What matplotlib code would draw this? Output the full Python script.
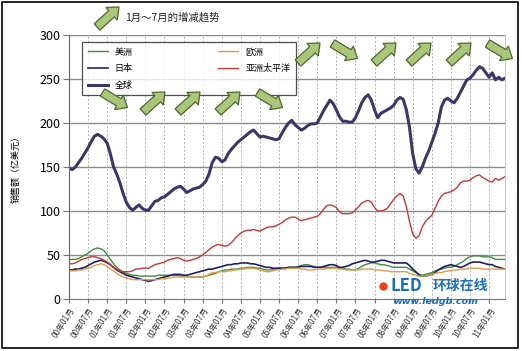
import matplotlib
matplotlib.use("Agg")
import matplotlib.pyplot as plt
from matplotlib.patches import FancyArrow, Rectangle
import numpy as np

plt.rcParams['font.family'] = ['Noto Sans CJK SC', 'DejaVu Sans']

# monthly sales, 2000-01 .. 2011-06 (100 million USD)
global_sales = [149, 147, 150, 155, 160, 166, 172, 179, 185, 187, 185, 182,
                177, 165, 150, 142, 132, 120, 110, 104, 101, 104, 107, 103,
                101, 101, 106, 111, 112, 115, 116, 119, 122, 125, 127, 128,
                125, 121, 123, 125, 126, 127, 130, 134, 142, 155, 161, 160,
                156, 158, 165, 170, 174, 178, 181, 184, 187, 190, 192, 188,
                184, 185, 184, 183, 182, 181, 182, 189, 195, 200, 203, 198,
                195, 192, 194, 197, 199, 199, 200, 207, 214, 220, 226, 222,
                215, 207, 202, 202, 201, 201, 206, 214, 223, 229, 232, 226,
                215, 206, 211, 213, 215, 217, 220, 226, 229, 227, 215, 195,
                165, 148, 143, 150, 160, 168, 178, 188, 200, 218, 226, 228,
                225, 223, 228, 235, 242, 249, 251, 255, 260, 264, 262, 257,
                252, 257, 249, 252, 249, 251]

asia_pacific = [40, 40, 41, 43, 45, 46, 47, 48, 48, 47, 46, 44,
                42, 39, 36, 34, 32, 31, 31, 31, 32, 34, 34, 35,
                35, 35, 37, 39, 40, 41, 42, 44, 45, 46, 47, 46,
                44, 43, 44, 45, 46, 48, 50, 53, 56, 59, 61, 62,
                61, 60, 61, 64, 68, 72, 75, 77, 78, 78, 79, 78,
                77, 79, 81, 82, 82, 83, 85, 87, 90, 92, 93, 93,
                91, 89, 90, 91, 92, 93, 94, 97, 102, 106, 107, 106,
                104, 99, 97, 97, 97, 98, 101, 105, 109, 111, 112, 110,
                104, 100, 100, 101, 103, 108, 113, 117, 120, 117, 105, 88,
                74, 69, 72, 82, 88, 92, 95, 103, 111, 117, 120, 121,
                122, 124, 127, 132, 134, 134, 135, 138, 140, 141, 138, 136,
                134, 133, 137, 135, 137, 139]

americas = [45, 45, 45, 46, 48, 50, 52, 55, 57, 58, 57, 55,
            50, 45, 40, 36, 33, 31, 29, 28, 27, 27, 26, 26,
            26, 26, 26, 26, 27, 27, 27, 27, 27, 27, 27, 26,
            26, 26, 25, 25, 25, 25, 25, 26, 27, 28, 29, 31,
            32, 33, 33, 34, 34, 34, 35, 35, 36, 36, 36, 35,
            35, 34, 33, 33, 34, 34, 35, 35, 35, 36, 36, 36,
            37, 38, 39, 39, 38, 37, 36, 36, 36, 36, 36, 36,
            36, 35, 35, 34, 34, 33, 33, 35, 37, 39, 40, 41,
            41, 40, 39, 39, 38, 37, 36, 36, 36, 36, 36, 34,
            32, 30, 28, 27, 28, 29, 30, 32, 33, 34, 35, 36,
            36, 37, 39, 41, 43, 46, 48, 49, 49, 49, 48, 48,
            48, 47, 45, 45, 45, 45]

japan = [33, 33, 34, 34, 35, 36, 38, 40, 42, 43, 44, 43,
         41, 39, 36, 33, 31, 29, 27, 26, 25, 24, 23, 22,
         21, 20, 21, 22, 23, 24, 25, 26, 27, 28, 28, 28,
         27, 27, 28, 29, 30, 31, 32, 33, 34, 34, 35, 36,
         37, 38, 39, 39, 40, 40, 41, 41, 41, 40, 40, 39,
         38, 37, 36, 36, 35, 35, 35, 35, 35, 36, 36, 36,
         36, 37, 37, 37, 37, 36, 36, 36, 37, 38, 39, 39,
         38, 36, 36, 37, 38, 40, 41, 42, 43, 44, 43, 42,
         42, 43, 44, 44, 43, 42, 41, 41, 41, 41, 41, 38,
         34, 31, 27, 26, 26, 27, 28, 30, 33, 35, 37, 38,
         39, 38, 37, 36, 37, 39, 41, 42, 42, 42, 41, 40,
         39, 39, 37, 36, 35, 34]

europe = [32, 32, 32, 33, 33, 34, 35, 36, 38, 39, 40, 39,
          37, 34, 32, 29, 27, 25, 24, 23, 22, 22, 22, 22,
          22, 22, 22, 22, 22, 23, 23, 24, 24, 25, 25, 25,
          25, 25, 25, 25, 25, 25, 25, 26, 28, 30, 30, 31,
          31, 31, 32, 32, 33, 33, 34, 34, 35, 35, 35, 34,
          33, 32, 31, 31, 32, 33, 33, 34, 34, 35, 35, 35,
          35, 34, 34, 33, 33, 33, 34, 34, 34, 35, 35, 35,
          35, 34, 34, 33, 33, 33, 33, 33, 34, 34, 34, 34,
          33, 33, 33, 32, 32, 31, 31, 31, 31, 31, 31, 29,
          28, 27, 26, 26, 26, 27, 28, 29, 30, 30, 31, 32,
          32, 33, 33, 34, 34, 34, 35, 35, 35, 35, 34, 34,
          34, 34, 34, 34, 34, 34]

tick_labels = ['00年01月', '00年07月', '01年01月', '01年07月', '02年01月', '02年07月',
               '03年01月', '03年07月', '04年01月', '04年07月', '05年01月', '05年07月',
               '06年01月', '06年07月', '07年01月', '07年07月', '08年01月', '08年07月',
               '09年01月', '09年07月', '10年01月', '10年07月', '11年01月']

# Jan -> Jul trend per year (True = up), 2001..2011
trend_up = [False, True, True, True, False, True, False, True, True, True, False]

months = np.arange(len(global_sales))

fig = plt.figure(figsize=(5.22, 3.51), dpi=100)
ax = fig.add_axes([69 / 522, 1 - 299 / 351, 436 / 522, 264 / 351])

ax.plot(months, americas, color='#3f8f3f', lw=1.0, label='美洲')
ax.plot(months, japan, color='#20206a', lw=1.2, label='日本')
ax.plot(months, global_sales, color='#3b3768', lw=2.2, label='全球')
ax.plot(months, europe, color='#e39a45', lw=1.0, label='欧洲')
ax.plot(months, asia_pacific, color='#c83636', lw=1.0, label='亚洲太平洋')

ax.set_xlim(0, len(global_sales) - 1)
ax.set_ylim(0, 300)
ax.set_yticks(range(0, 301, 50))
ax.set_xticks(range(0, 6 * len(tick_labels), 6))
ax.set_xticklabels(tick_labels, rotation=58, ha='right', va='top',
                   rotation_mode='anchor', fontsize=5.8, color='#333333')
ax.tick_params(axis='y', labelsize=9, length=4, color='#777777', pad=2)
ax.tick_params(axis='x', length=3, color='#777777', pad=2)

for v in range(50, 301, 50):
    ax.axhline(v, color='#8a8a8a', lw=1.0, zorder=0)
for t in range(6, 6 * len(tick_labels), 6):
    ax.axvline(t, color='#b0b0b0', lw=0.7, ls=(0, (2, 2)), zorder=0)

ax.spines['top'].set_visible(False)
ax.spines['left'].set_color('#666666')
ax.spines['bottom'].set_color('#777777')
ax.spines['right'].set_color('#c8c8c8')

ax.set_ylabel('销售额（亿美元）', fontsize=6.5, labelpad=14)

leg = ax.legend(ncol=2, loc='upper left', bbox_to_anchor=(0.02, 0.99),
                fontsize=6.5, frameon=True, fancybox=False, handlelength=2.2,
                columnspacing=9.5, labelspacing=0.85, borderpad=0.6,
                edgecolor='#222222')
leg.get_frame().set_linewidth(0.9)

# overlay in pixel coordinates for arrows, title and frame
ov = fig.add_axes([0, 0, 1, 1], zorder=5)
ov.set_xlim(0, 522)
ov.set_ylim(351, 0)
ov.axis('off')


def arrow(cx, cy, up):
    if up:
        dx, dy = 22, -20
    else:
        dx, dy = 25, 15
    ov.add_patch(FancyArrow(cx - dx / 2, cy - dy / 2, dx, dy, width=8.5,
                            head_width=17, head_length=10,
                            length_includes_head=True, fc='#a9c67a',
                            ec='#4d6a2c', lw=0.9))


arrow(108, 17, True)
ov.text(125, 17, '1月～7月的增减趋势', fontsize=7.5, va='center', color='#222222')

arrow_pos = [(115, 100), (154, 102), (189, 102), (229, 102), (270, 100),
             (309, 53), (345, 51), (385, 53), (420, 53), (460, 53), (500, 51)]
for (cx, cy), up in zip(arrow_pos, trend_up):
    arrow(cx, cy, up)

# watermark
ov.text(390, 286, 'LED', fontsize=12, fontweight='bold', style='italic',
        color='#1d6fb8', va='center')
ov.text(433, 286, '环球在线', fontsize=10, fontweight='bold',
        color='#1d6fb8', va='center')
ov.text(393, 301, 'www.ledgb.com', fontsize=6.8, fontweight='bold',
        style='italic', color='#1d6fb8', va='center', family='DejaVu Sans')
ov.plot([383], [286], marker='o', ms=5, color='#e8401c')

ov.add_patch(Rectangle((2, 2), 516, 346, fill=False, ec='black', lw=1.2))

fig.savefig('out.png', dpi=100)
